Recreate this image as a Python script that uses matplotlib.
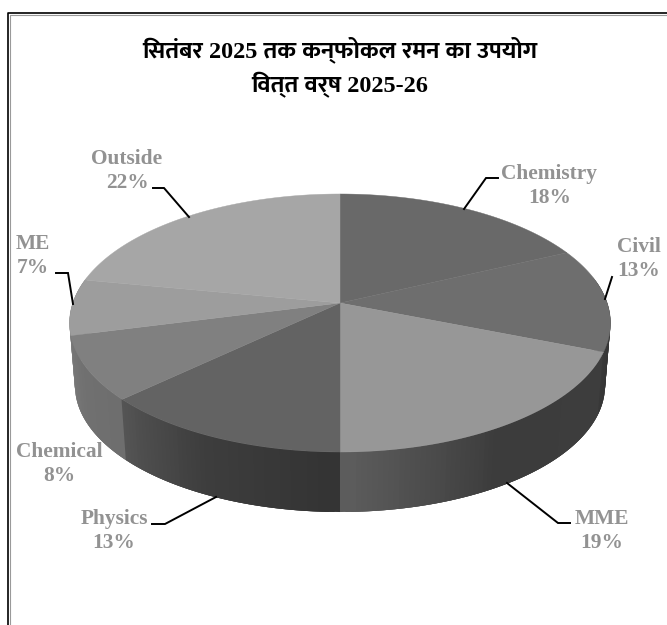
import numpy as np
import matplotlib
matplotlib.use("Agg")
import matplotlib.pyplot as plt
from matplotlib.collections import PolyCollection

categories = ["Chemistry", "Civil", "MME", "Physics", "Chemical", "ME", "Outside"]
shares = [18, 13, 19, 13, 8, 7, 22]
title_lines = ["सितंबर 2025 तक कन्फोकल रमन का उपयोग", "वित्त वर्ष 2025-26"]

top_greys = ["#696969", "#6e6e6e", "#979797", "#636363", "#808080", "#9d9d9d", "#a6a6a6"]
# wall shade at slice start / middle / end, walking clockwise from 12 o'clock
wall_shades = [
    (0.20, 0.20, 0.20),
    (0.18, 0.19, 0.22),
    (0.24, 0.235, 0.37),
    (0.20, 0.24, 0.33),
    (0.43, 0.44, 0.47),
    (0.50, 0.50, 0.50),
    (0.55, 0.55, 0.55),
]

label_pos = [(549.5, 186), (639, 259), (602, 531), (114, 531), (59, 464), (33, 256), (127, 171)]
leaders = [
    [(498, 178), (486, 178), (464, 209)],
    [(612, 277), (605, 299)],
    [(507, 483), (558, 523), (570, 523)],
    [(216, 497), (165, 524), (152, 524)],
    [],
    [(56, 273), (68, 273), (73, 304)],
    [(153, 188), (164, 188), (189, 217)],
]

# projection of the disc, in pixels
CX, CY = 340.0, 303.0
A, B, K = 267.2, 125.9, 0.155
DEPTH, SHRINK = 63.0, 0.98


def project(t, lower=False):
    # t is the clockwise angle from 12 o'clock in radians
    t = np.asarray(t)
    w = 1 + K * np.cos(t)
    s = SHRINK if lower else 1.0
    d = DEPTH if lower else 0.0
    return CX + s * A * np.sin(t) / w, CY + d - s * B * np.cos(t) / w


def devanagari_visual(s):
    # no text shaping in matplotlib, so the short i sign goes before its consonant
    out = list(s)
    for i in range(1, len(out)):
        if out[i] == "\u093f":
            out[i - 1], out[i] = out[i], out[i - 1]
    return "".join(out)


def draw_walls(ax, edges):
    ts = np.radians(np.arange(80, 280.01, 1.0))
    overlap = np.radians(2.0)
    quads, colours, keys = [], [], []
    for t0, t1 in zip(ts[:-1], ts[1:]):
        mid = (t0 + t1) / 2
        # each strip runs back under its neighbour so no seams show through;
        # what stays visible is shifted by the overlap, so shade from there
        if mid < np.pi:
            a, b = t0 - overlap, t1
            seen = mid - overlap
        else:
            a, b = t0, t1 + overlap
            seen = mid + overlap
        idx = np.searchsorted(edges, seen, side="right") - 1
        frac = (seen - edges[idx]) / (edges[idx + 1] - edges[idx])
        g = np.interp(frac, [0, 0.55, 1], wall_shades[idx])
        xa, ya = project(a)
        xb, yb = project(b)
        xc, yc = project(b, lower=True)
        xd, yd = project(a, lower=True)
        quads.append([(xa, ya), (xb, yb), (xc, yc), (xd, yd)])
        colours.append((g, g, g))
        keys.append(abs(mid - np.pi))
    # paint from the sides towards the front
    order = np.argsort(-np.array(keys))
    ax.add_collection(PolyCollection([quads[i] for i in order],
                                     facecolors=[colours[i] for i in order],
                                     edgecolors="none"))


def main():
    fig = plt.figure(figsize=(6.67, 6.25), dpi=100)
    ax = fig.add_axes([0, 0, 1, 1])
    ax.set_xlim(0, 667)
    ax.set_ylim(625, 0)
    ax.axis("off")

    # chart frame, open to the right and below
    ax.plot([9.6, 9.6, 667], [625, 14.6, 14.6], color="#9a9a9a", lw=0.8)
    ax.plot([8.2, 8.2, 667], [625, 13.2, 13.2], color="black", lw=1.2)

    edges = np.radians(np.cumsum([0] + shares) * 3.6)
    draw_walls(ax, edges)

    for i, grey in enumerate(top_greys):
        t = np.linspace(edges[i], edges[i + 1], 80)
        x, y = project(t)
        ax.fill(np.r_[CX, x], np.r_[CY, y], facecolor=grey, edgecolor=grey, lw=0.3)

    for pts in leaders:
        if pts:
            xs, ys = zip(*pts)
            ax.plot(xs, ys, color="black", lw=1.4, solid_joinstyle="miter")

    for cat, share, (x, y) in zip(categories, shares, label_pos):
        ax.text(x, y, f"{cat}\n{share}%", ha="center", va="center", color="#929292",
                fontfamily="Liberation Serif", fontweight="bold", fontsize=15.4,
                linespacing=1.3)

    for line, y in zip(title_lines, [50, 85]):
        ax.text(340, y, devanagari_visual(line), ha="center", va="center", color="black",
                family=["Liberation Serif", "Mukta"], fontweight="bold", fontsize=17.5)

    fig.savefig("out.png", dpi=100)


if __name__ == "__main__":
    main()
